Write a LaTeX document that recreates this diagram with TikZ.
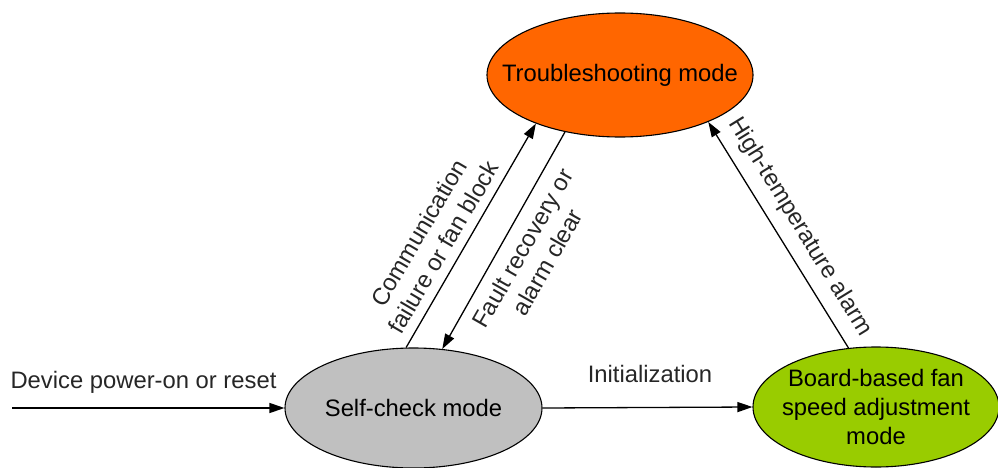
\documentclass[tikz,border=0pt]{standalone}
\usepackage{fontspec}
\setmainfont{Liberation Sans}
\usetikzlibrary{shapes.geometric,arrows.meta,calc}
\definecolor{tsorange}{HTML}{FF6600}
\definecolor{scgray}{HTML}{C0C0C0}
\definecolor{bbgreen}{HTML}{99CC00}
\definecolor{txt}{HTML}{262626}
\tikzset{
  state/.style={ellipse, draw=black, line width=1.1pt, inner sep=0pt},
  stext/.style={text=black, align=center, font=\fontsize{23.8}{29}\selectfont},
  ltext/.style={text=txt, align=center, font=\fontsize{23.8}{28.5}\selectfont},
  conn/.style={draw=black, line width=1.3pt, -{Triangle[length=15pt,width=10pt]}}
}
\begin{document}
\begin{tikzpicture}[x=1pt,y=-1pt]
\useasboundingbox (0,0) rectangle (998,468);
% states
\node[state, fill=tsorange, minimum width=266pt, minimum height=124pt] (ts) at (620,75) {};
\node[stext] (tst) at (ts.center) {Troubleshooting mode};
\node[state, fill=scgray, minimum width=257pt, minimum height=120pt] (sc) at (413.5,408) {};
\node[stext] (sct) at (sc.center) {Self-check mode};
\node[state, fill=bbgreen, minimum width=246pt, minimum height=120pt] (bb) at (876,407) {};
\node[stext] (bbt) at (bb.center) {Board-based fan\\speed adjustment\\mode};
% connectors
\coordinate (start) at (12,408);
\draw[conn] (start) -- (sc.west);
\draw[conn] (sc.east) -- (bb.west);
\draw[conn] (sc.97.9) -- (ts.210.5);
\draw[conn] (ts.226.5) -- (sc.64.2);
\draw[conn] (bb.115) -- (ts.332);
% labels
\node[ltext] (l1) at (143.5,382) {Device power-on or reset};
\node[ltext, anchor=base] (l2) at (650,382) {Initialization};
\node[ltext, rotate=59.6] (l3) at (431,240) {Communication\\failure or fan block};
\node[ltext, rotate=60.3] (l4) at (535,255) {Fault recovery or\\alarm clear};
\node[ltext, rotate=-58.4] (l5) at (800,227) {High-temperature alarm};
\end{tikzpicture}
\end{document}
